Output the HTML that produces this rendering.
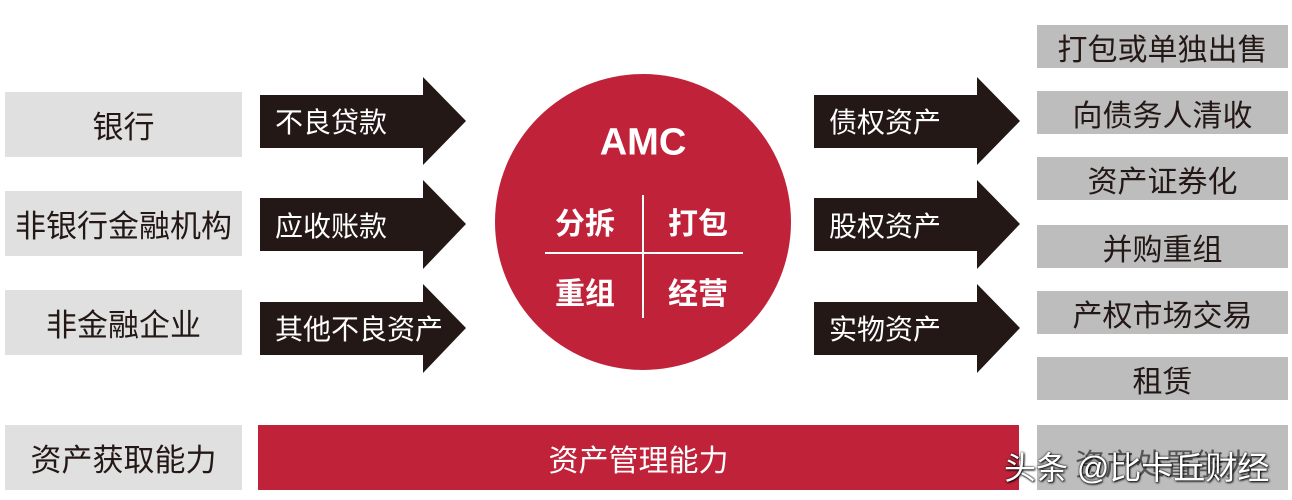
<!DOCTYPE html>
<html><head><meta charset="utf-8"><style>
html,body{margin:0;padding:0;background:#fff;}
body{width:1292px;height:500px;position:relative;overflow:hidden;font-family:"Liberation Sans","Noto Sans CJK SC",sans-serif;}
.g{position:absolute;background:#e0e0e0;color:#231815;font-size:31px;display:flex;align-items:center;justify-content:center;}
.r{position:absolute;background:#bdbdbd;color:#231815;font-size:30px;display:flex;align-items:center;justify-content:center;}
.t{position:absolute;color:#fff;font-size:28px;}
.c{position:absolute;color:#fff;font-size:30px;font-weight:bold;transform:translate(-50%,-50%);white-space:nowrap;}
</style></head><body>
<div class="g" style="left:5px;top:92px;width:237px;height:65px;">银行</div>
<div class="g" style="left:5px;top:191px;width:237px;height:65px;">非银行金融机构</div>
<div class="g" style="left:5px;top:290px;width:237px;height:65px;">非金融企业</div>
<div class="g" style="left:5px;top:425px;width:237px;height:65px;">资产获取能力</div>

<div class="r" style="left:1037px;top:25px;width:251px;height:43px;">打包或单独出售</div>
<div class="r" style="left:1037px;top:91px;width:251px;height:43px;">向债务人清收</div>
<div class="r" style="left:1037px;top:157px;width:251px;height:43px;">资产证券化</div>
<div class="r" style="left:1037px;top:225px;width:251px;height:43px;">并购重组</div>
<div class="r" style="left:1037px;top:291px;width:251px;height:43px;">产权市场交易</div>
<div class="r" style="left:1037px;top:357px;width:251px;height:43px;">租赁</div>
<div class="r" style="left:1037px;top:425px;width:251px;height:65px;"></div>

<svg width="1292" height="500" style="position:absolute;left:0;top:0">
<g fill="#231815">
<polygon points="260,95 423,95 423,77 466,121 423,165 423,148 260,148"/>
<polygon points="260,198 423,198 423,180 466,224 423,269 423,251 260,251"/>
<polygon points="260,302 423,302 423,284 466,328 423,373 423,355 260,355"/>
<polygon points="814,95 977,95 977,77 1020,121 977,165 977,148 814,148"/>
<polygon points="814,198 977,198 977,180 1020,224 977,269 977,251 814,251"/>
<polygon points="814,302 977,302 977,284 1020,328 977,373 977,355 814,355"/>
</g>
<rect x="258" y="425" width="761" height="65" fill="#c0223a"/>
<circle cx="643" cy="222" r="148" fill="#c0223a"/>
<line x1="643" y1="195" x2="643" y2="318" stroke="#fff" stroke-width="2"/>
<line x1="545" y1="253" x2="743" y2="253" stroke="#fff" stroke-width="2"/>
</svg>

<div class="t" style="left:275px;top:101px;">不良贷款</div>
<div class="t" style="left:275px;top:205px;">应收账款</div>
<div class="t" style="left:275px;top:308px;">其他不良资产</div>
<div class="t" style="left:829px;top:101px;">债权资产</div>
<div class="t" style="left:829px;top:205px;">股权资产</div>
<div class="t" style="left:829px;top:308px;">实物资产</div>

<div class="c" style="left:643px;top:143px;font-size:38px;">AMC</div>
<div class="c" style="left:585px;top:221px;">分拆</div>
<div class="c" style="left:698px;top:221px;">打包</div>
<div class="c" style="left:585px;top:291px;">重组</div>
<div class="c" style="left:698px;top:291px;">经营</div>

<div style="position:absolute;left:258px;top:425px;width:761px;height:65px;display:flex;align-items:center;justify-content:center;color:#fff;font-size:30px;">资产管理能力</div>
<div style="position:absolute;left:1075px;top:440px;color:#555;font-size:30px;">资产处置能力</div>
<div style="position:absolute;left:1004px;top:443px;color:#fff;font-size:32px;text-shadow:1px 1px 2px #000,0 0 2px #000;white-space:nowrap;">头条 @比卡丘财经</div>
</body></html>
